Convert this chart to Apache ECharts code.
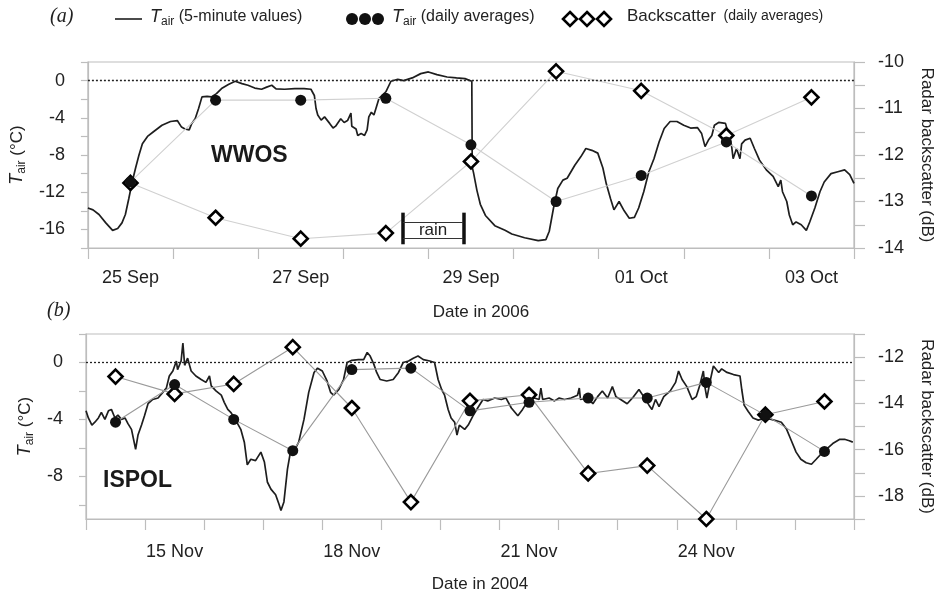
<!DOCTYPE html>
<html><head><meta charset="utf-8">
<script src="https://cdn.jsdelivr.net/npm/echarts@6/dist/echarts.min.js"></script>
<style>html,body{margin:0;padding:0;background:#fff}#c{width:943px;height:594px}</style>
</head><body><div id="c"></div><script>
// ---------- Panel (a): WWOS, 2006 ----------
const daysA = ['25 Sep','26 Sep','27 Sep','28 Sep','29 Sep','30 Sep','01 Oct','02 Oct','03 Oct'];
const labelDaysA = ['25 Sep','27 Sep','29 Sep','01 Oct','03 Oct'];
// 5-minute air temperature trace (time in days since 25 Sep 00:00, value in °C)
const traceTimeA = [0.00,0.06,0.13,0.21,0.29,0.35,0.40,0.44,0.48,0.52,0.56,0.60,0.64,0.70,0.77,0.87,0.97,1.05,1.10,1.14,1.19,1.22,1.26,1.30,1.34,1.40,1.45,1.51,1.57,1.65,1.73,1.81,1.88,1.96,2.04,2.10,2.16,2.21,2.31,2.43,2.54,2.62,2.66,2.68,2.70,2.74,2.78,2.84,2.88,2.91,2.97,3.01,3.05,3.09,3.10,3.15,3.17,3.21,3.25,3.28,3.30,3.33,3.36,3.39,3.42,3.46,3.50,3.56,3.64,3.71,3.81,3.91,4.00,4.10,4.22,4.33,4.43,4.51,4.515,4.53,4.57,4.61,4.67,4.78,4.90,4.98,5.13,5.29,5.38,5.42,5.47,5.52,5.58,5.63,5.72,5.79,5.85,5.92,5.99,6.05,6.09,6.14,6.18,6.24,6.30,6.36,6.42,6.47,6.53,6.59,6.65,6.71,6.77,6.84,6.92,7.00,7.08,7.16,7.21,7.25,7.29,7.33,7.36,7.41,7.49,7.53,7.56,7.58,7.62,7.66,7.68,7.72,7.78,7.83,7.89,7.97,8.05,8.11,8.14,8.16,8.21,8.24,8.28,8.32,8.38,8.44,8.48,8.54,8.60,8.65,8.73,8.81,8.89,8.95,9.00];
const traceTempA = [-13.7,-13.9,-14.4,-15.3,-16.1,-15.9,-15.3,-14.4,-12.7,-10.9,-9.4,-8.0,-6.8,-6.0,-5.5,-4.8,-4.4,-4.3,-5.0,-5.2,-5.3,-4.6,-4.1,-3.0,-1.75,-1.7,-1.75,-1.4,-0.86,-0.43,-0.07,-0.32,-0.5,-0.8,-0.93,-0.7,-0.5,-0.9,-0.93,-0.86,-0.86,-0.93,-1.6,-3.0,-3.7,-4.25,-3.9,-4.6,-5.1,-4.9,-4.1,-4.5,-4.3,-3.5,-4.9,-5.2,-5.9,-5.7,-5.9,-5.3,-3.9,-3.4,-3.7,-2.8,-1.9,-1.55,-1.2,-0.07,0.14,0.0,0.29,0.75,0.93,0.64,0.39,0.29,0.21,-0.07,-9.3,-9.9,-11.8,-13.3,-14.5,-15.6,-16.1,-16.5,-16.9,-17.2,-17.1,-16.2,-13.7,-11.6,-10.7,-10.5,-9.1,-8.2,-7.3,-7.5,-7.8,-9.4,-11.1,-12.7,-13.9,-13.0,-14.0,-14.8,-14.7,-13.7,-11.95,-9.8,-8.4,-6.6,-5.15,-4.4,-4.4,-4.8,-5.1,-5.05,-5.7,-7.1,-6.4,-5.9,-4.8,-4.5,-4.6,-5.9,-6.9,-8.4,-7.3,-8.4,-6.8,-6.4,-6.2,-7.3,-8.55,-9.6,-10.3,-11.4,-10.7,-11.95,-13.0,-14.45,-15.5,-15.2,-15.5,-16.1,-15.2,-13.7,-11.95,-10.9,-10.0,-9.8,-9.6,-10.1,-11.05];
const dailyTempA = [-10.9,-2.1,-2.1,-1.9,-6.9,-13.0,-10.2,-6.6,-12.4];
const backscatterA = [-12.6,-13.35,-13.8,-13.68,-12.14,-10.2,-10.62,-11.58,-10.76];
const rainSpan = [3.70, 4.41];
const leftTicksA = [-18,-16,-14,-12,-10,-8,-6,-4,-2,0,2];
const leftLabelsA = [-16,-12,-8,-4,0];
const rightTicksA = [-14,-13.5,-13,-12.5,-12,-11.5,-11,-10.5,-10];
const rightLabelsA = [-14,-13,-12,-11,-10];

// ---------- Panel (b): ISPOL, 2004 ----------
const daysB = ['14 Nov','15 Nov','16 Nov','17 Nov','18 Nov','19 Nov','20 Nov','21 Nov','22 Nov','23 Nov','24 Nov','25 Nov','26 Nov'];
const labelDaysB = ['15 Nov','18 Nov','21 Nov','24 Nov'];
const traceTimeB = [0.00,0.04,0.10,0.15,0.21,0.26,0.32,0.38,0.43,0.49,0.54,0.60,0.66,0.71,0.77,0.84,0.88,0.94,0.99,1.05,1.13,1.22,1.30,1.36,1.41,1.47,1.53,1.55,1.61,1.64,1.67,1.72,1.78,1.86,1.95,2.03,2.09,2.12,2.20,2.29,2.34,2.40,2.45,2.54,2.62,2.68,2.73,2.79,2.87,2.96,3.02,3.07,3.13,3.21,3.27,3.30,3.35,3.41,3.46,3.55,3.60,3.69,3.77,3.86,3.92,4.00,4.08,4.14,4.19,4.28,4.36,4.42,4.50,4.61,4.70,4.76,4.81,4.87,4.92,4.98,5.09,5.20,5.29,5.37,5.46,5.54,5.62,5.71,5.82,5.90,5.96,6.02,6.07,6.13,6.18,6.24,6.28,6.32,6.41,6.47,6.55,6.63,6.72,6.80,6.92,7.03,7.11,7.20,7.31,7.39,7.48,7.59,7.67,7.70,7.73,7.84,7.93,8.01,8.10,8.21,8.32,8.35,8.37,8.49,8.58,8.66,8.74,8.83,8.91,8.97,9.05,9.16,9.27,9.36,9.44,9.53,9.58,9.64,9.70,9.78,9.89,9.98,10.03,10.09,10.17,10.26,10.33,10.39,10.45,10.48,10.51,10.56,10.62,10.71,10.76,10.85,10.96,11.07,11.10,11.14,11.21,11.29,11.38,11.49,11.60,11.69,11.77,11.86,11.94,12.02,12.10,12.19,12.28,12.36,12.45,12.53,12.64,12.76,12.84,12.92,12.98];
const traceTempB = [-3.4,-3.9,-4.4,-4.2,-3.9,-3.5,-4.0,-3.4,-3.3,-3.9,-3.7,-4.0,-3.9,-4.3,-4.7,-6.1,-5.1,-4.4,-3.75,-2.9,-2.6,-2.5,-2.1,-1.8,-0.95,-0.6,0.1,-0.5,0.1,1.37,-0.2,0.3,-0.6,-0.95,-1.2,-1.4,-0.95,-1.65,-2.0,-2.3,-2.8,-3.3,-3.5,-4.1,-4.7,-5.6,-7.2,-6.8,-6.9,-6.3,-7.0,-8.4,-8.9,-9.3,-10.0,-10.4,-9.8,-7.5,-6.3,-6.0,-5.6,-4.0,-2.1,-0.7,-0.4,-0.6,-1.3,-2.1,-2.3,-1.9,-1.2,0.0,0.15,0.2,0.2,0.7,0.45,-0.1,-0.7,-1.2,-1.3,-1.2,-0.7,0.0,0.1,0.3,0.45,0.2,0.1,0.0,-1.2,-1.9,-2.3,-3.3,-3.9,-4.2,-5.1,-4.4,-4.7,-4.4,-3.75,-3.2,-2.6,-2.7,-2.5,-2.6,-2.5,-3.2,-3.75,-3.3,-2.7,-2.5,-2.6,-1.8,-2.6,-2.5,-2.7,-2.5,-2.6,-2.5,-2.3,-1.8,-2.6,-2.5,-2.9,-2.4,-2.0,-2.5,-1.7,-2.4,-2.6,-2.9,-2.4,-1.9,-2.4,-3.0,-3.3,-2.6,-3.1,-2.4,-2.0,-1.4,-0.6,-1.2,-1.7,-2.6,-2.4,-1.6,-0.6,-1.8,-2.5,-1.4,-0.25,-0.7,-0.45,-0.7,-0.85,-0.95,-1.9,-3.0,-3.45,-3.9,-4.05,-3.9,-4.0,-4.1,-4.2,-4.7,-5.5,-6.3,-6.8,-7.05,-7.15,-6.8,-6.4,-6.1,-5.7,-5.4,-5.4,-5.5,-5.6];
const dailyTempB = [-4.2,-1.55,-4.0,-6.2,-0.5,-0.4,-3.4,-2.8,-2.5,-2.5,-1.4,-3.7,-6.25];
const backscatterB = [-12.84,-13.59,-13.16,-11.57,-14.2,-18.27,-13.89,-13.63,-17.03,-16.69,-19.0,-14.49,-13.92];
const leftTicksB = [-10,-8,-6,-4,-2,0,2];
const leftLabelsB = [-8,-4,0];
const rightTicksB = [-19,-18,-17,-16,-15,-14,-13,-12,-11];
const rightLabelsB = [-18,-16,-14,-12];

// ---------- helpers ----------
const FONT = 'Liberation Sans';
const pairs = (t, v) => t.map((x, i) => [x, v[i]]);
const daily = v => v.map((y, i) => [i + 0.5, y]);
const dayTicks = n => Array.from({length: n + 1}, (_, i) => i);
const labelPos = (days, labels) => labels.map(l => days.indexOf(l) + 0.5);
const AX = '#bdbdbd', TXT = '#222';
const tairName = '{i|T}{s|air}{n| (°C)}';
const tairRich = {
  i: {fontStyle: 'italic', fontSize: 18, color: TXT, fontFamily: FONT},
  s: {fontSize: 12, color: TXT, fontFamily: FONT, padding: [10, 0, 0, 0]},
  n: {fontSize: 17, color: TXT, fontFamily: FONT}
};

function xAxisFor(grid, days, labels, name, margin, gap) {
  return {
    gridIndex: grid, type: 'value', min: 0, max: days.length,
    axisLine: {onZero: false, lineStyle: {color: AX, width: 1.2}},
    axisTick: {customValues: dayTicks(days.length), length: 11, lineStyle: {color: AX, width: 1.2}},
    axisLabel: {customValues: labelPos(days, labels), formatter: v => days[Math.floor(v)], fontSize: 18, color: TXT, margin: margin, fontFamily: FONT},
    splitLine: {show: false},
    name: name, nameLocation: 'middle', nameGap: gap,
    nameTextStyle: {fontSize: 17, color: TXT, fontFamily: FONT, padding: [0, 0, 0, 20]}
  };
}
function leftAxis(grid, min, max, ticks, labels) {
  return {
    gridIndex: grid, type: 'value', position: 'left', min: min, max: max,
    axisLine: {show: true, onZero: false, lineStyle: {color: AX, width: 1.2}},
    axisTick: {show: true, customValues: ticks, length: 7, lineStyle: {color: AX, width: 1.2}},
    axisLabel: {customValues: labels, fontSize: 18, color: TXT, margin: 23, fontFamily: FONT},
    splitLine: {show: false},
    name: tairName, nameLocation: 'middle', nameRotate: 90, nameGap: 47,
    nameTextStyle: {rich: tairRich}
  };
}
function rightAxis(grid, min, max, ticks, labels) {
  return {
    gridIndex: grid, type: 'value', position: 'right', min: min, max: max,
    axisLine: {show: true, onZero: false, lineStyle: {color: AX, width: 1.2}},
    axisTick: {show: true, customValues: ticks, length: 11, lineStyle: {color: AX, width: 1.2}},
    axisLabel: {customValues: labels, fontSize: 18, color: TXT, margin: 24, fontFamily: FONT},
    splitLine: {show: false},
    name: 'Radar backscatter (dB)', nameLocation: 'middle', nameRotate: -90, nameGap: 64,
    nameTextStyle: {fontSize: 17, color: TXT, fontFamily: FONT}
  };
}
function seriesFor(grid, leftIdx, rightIdx, time, temp, dTemp, bs, bsLine, extraMarks) {
  const zeroLine = [{yAxis: 0, lineStyle: {type: [2, 2], color: '#222', width: 1.3}}];
  return [
    {name: 'Backscatter', type: 'line', xAxisIndex: grid, yAxisIndex: rightIdx, data: daily(bs),
     symbol: 'diamond', symbolSize: 14, itemStyle: {color: '#fff', borderColor: '#000', borderWidth: 2.6},
     lineStyle: {color: bsLine, width: 1.1}, z: 3, animation: false},
    {name: 'Tair5', type: 'line', xAxisIndex: grid, yAxisIndex: leftIdx, data: pairs(time, temp),
     showSymbol: false, symbol: 'none', lineStyle: {color: '#1e1e1e', width: 1.7}, z: 2, animation: false,
     markLine: {silent: true, symbol: ['none', 'none'], label: {show: false}, animation: false,
       data: zeroLine.concat(extraMarks.lines)},
     markPoint: extraMarks.points},
    {name: 'TairDaily', type: 'line', xAxisIndex: grid, yAxisIndex: leftIdx, data: daily(dTemp),
     symbol: 'circle', symbolSize: 11, itemStyle: {color: '#111'},
     lineStyle: {color: bsLine, width: 1.1}, z: 4, animation: false}
  ];
}
const barStyle = {type: 'solid', color: '#111', width: 3.5};
const thinStyle = {type: 'solid', color: '#333', width: 1};
const rainMarks = {
  lines: [
    [{coord: [rainSpan[0], -14.2], lineStyle: barStyle}, {coord: [rainSpan[0], -17.6]}],
    [{coord: [rainSpan[1], -14.2], lineStyle: barStyle}, {coord: [rainSpan[1], -17.6]}],
    [{coord: [rainSpan[0], -15.2], lineStyle: thinStyle}, {coord: [rainSpan[1], -15.2]}],
    [{coord: [rainSpan[0], -16.9], lineStyle: thinStyle}, {coord: [rainSpan[1], -16.9]}]
  ],
  points: {silent: true, symbol: 'circle', symbolSize: 1, itemStyle: {color: 'rgba(0,0,0,0)'}, animation: false,
    label: {show: true, position: 'inside', formatter: 'rain', fontSize: 17, color: TXT, fontFamily: FONT},
    data: [{coord: [(rainSpan[0] + rainSpan[1]) / 2, -16.05]}]}
};
const noMarks = {lines: [], points: undefined};

const legendRich = {
  i: {fontStyle: 'italic', fontSize: 18, fill: TXT, fontFamily: FONT},
  s: {fontSize: 12, fill: TXT, fontFamily: FONT, padding: [10, 0, 0, 0]},
  t: {fontSize: 16, fill: TXT, fontFamily: FONT},
  b: {fontSize: 17, fill: TXT, fontFamily: FONT},
  u: {fontSize: 14, fill: TXT, fontFamily: FONT}
};
const diamond = (cx, cy, r) => ({type: 'polygon', shape: {points: [[cx, cy - r], [cx + r, cy], [cx, cy + r], [cx - r, cy]]},
  style: {fill: '#fff', stroke: '#000', lineWidth: 2.6}});

const option = {
  animation: false,
  textStyle: {fontFamily: FONT},
  grid: [
    {left: 87, top: 62, width: 771, height: 186, show: true, borderColor: AX, borderWidth: 1.2, backgroundColor: 'transparent'},
    {left: 86, top: 334, width: 772, height: 186, show: true, borderColor: AX, borderWidth: 1.2, backgroundColor: 'transparent'}
  ],
  xAxis: [
    xAxisFor(0, daysA, labelDaysA, 'Date in 2006', 21, 56),
    xAxisFor(1, daysB, labelDaysB, 'Date in 2004', 24, 57)
  ],
  yAxis: [
    leftAxis(0, -18, 2, leftTicksA, leftLabelsA),
    rightAxis(0, -14, -10, rightTicksA, rightLabelsA),
    leftAxis(1, -11, 2, leftTicksB, leftLabelsB),
    rightAxis(1, -19, -11, rightTicksB, rightLabelsB)
  ],
  series: [].concat(
    seriesFor(0, 0, 1, traceTimeA, traceTempA, dailyTempA, backscatterA, '#d0d0d0', rainMarks),
    seriesFor(1, 2, 3, traceTimeB, traceTempB, dailyTempB, backscatterB, '#9a9a9a', noMarks)
  ),
  graphic: [
    {type: 'text', left: 50, top: 7, style: {text: '(a)', font: 'italic 20px "Liberation Serif"', fill: TXT}},
    {type: 'text', left: 47, top: 301, style: {text: '(b)', font: 'italic 20px "Liberation Serif"', fill: TXT}},
    {type: 'text', left: 211, top: 144, style: {text: 'WWOS', font: 'bold 23px "Liberation Sans"', fill: '#1a1a1a'}},
    {type: 'text', left: 103, top: 469, style: {text: 'ISPOL', font: 'bold 23px "Liberation Sans"', fill: '#1a1a1a'}},
    {type: 'line', shape: {x1: 115, y1: 19, x2: 142, y2: 19}, style: {stroke: '#1e1e1e', lineWidth: 1.6}},
    {type: 'text', left: 150, top: 8, style: {text: '{i|T}{s|air}{t| (5-minute values)}', rich: legendRich, fill: TXT}},
    {type: 'circle', shape: {cx: 352, cy: 19, r: 6}, style: {fill: '#111'}},
    {type: 'circle', shape: {cx: 365, cy: 19, r: 6}, style: {fill: '#111'}},
    {type: 'circle', shape: {cx: 378, cy: 19, r: 6}, style: {fill: '#111'}},
    {type: 'text', left: 392, top: 8, style: {text: '{i|T}{s|air}{t| (daily averages)}', rich: legendRich, fill: TXT}},
    diamond(570, 19, 7), diamond(587, 19, 7), diamond(604, 19, 7),
    {type: 'text', left: 627, top: 8, style: {text: '{b|Backscatter}{u|  (daily averages)}', rich: legendRich, fill: TXT}}
  ]
};
const chart = echarts.init(document.getElementById('c'), null, {renderer: 'canvas'});
chart.setOption(option);
</script></body></html>
